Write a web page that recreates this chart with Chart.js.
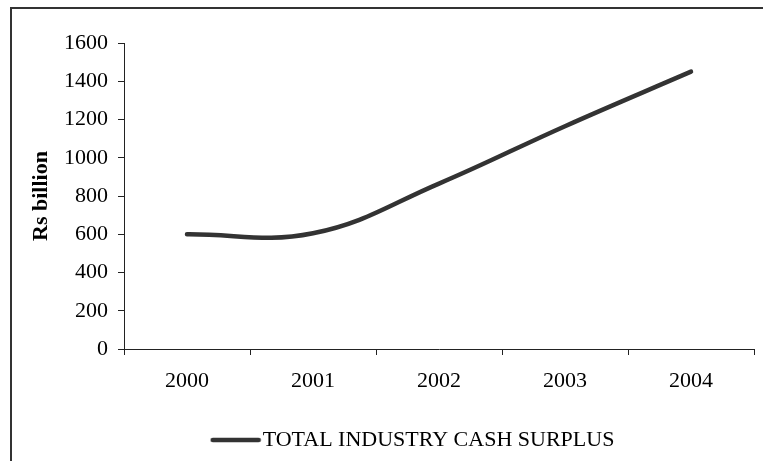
<!DOCTYPE html>
<html>
<head>
<meta charset="utf-8">
<script src="https://cdn.jsdelivr.net/npm/chart.js@4/dist/chart.umd.min.js"></script>
<style>
  body { margin: 0; background: #fff; }
  #wrap { position: relative; width: 763px; height: 461px; }
  /* outer frame: only top and left edges are visible */
  #frame {
    position: absolute; left: 10px; top: 7px; right: -4px; bottom: -4px;
    border-top: 2px solid #333; border-left: 2px solid #333;
    pointer-events: none;
  }
</style>
</head>
<body>
<div id="wrap">
  <canvas id="cashChart" width="763" height="461"></canvas>
  <div id="frame"></div>
</div>
<script>
const years = ["2000", "2001", "2002", "2003", "2004"];
const cashSurplus = [600, 605, 865, 1165, 1450]; // Rs billion
const seriesLabel = "TOTAL INDUSTRY CASH SURPLUS";
const yAxisTitle = "Rs billion";
const yMin = 0;
const yMax = 1600;
const yStep = 200;

const serif = "'Liberation Serif', 'Times New Roman', serif";
const textFont = { family: serif, size: 22 };
const lineColor = "#333";
const axisColor = "#222";

// Legend swatch: a thick rounded line sample
const legendLine = document.createElement("canvas");
legendLine.width = 52;
legendLine.height = 8;
const lctx = legendLine.getContext("2d");
lctx.strokeStyle = lineColor;
lctx.lineWidth = 4.5;
lctx.lineCap = "round";
lctx.beginPath();
lctx.moveTo(3, 4);
lctx.lineTo(49, 4);
lctx.stroke();

// Push the legend a bit to the right of the canvas centre
const legendShift = {
  id: "legendShift",
  afterLayout(chart) {
    chart.legend.left += 40;
    chart.legend.right += 40;
  },
};

const ctx = document.getElementById("cashChart").getContext("2d");

new Chart(ctx, {
  type: "line",
  data: {
    labels: years,
    datasets: [
      {
        label: seriesLabel,
        data: cashSurplus,
        borderColor: lineColor,
        backgroundColor: lineColor,
        borderWidth: 4.5,
        borderCapStyle: "round",
        tension: 0.4,
        pointRadius: 0,
        fill: false,
      },
    ],
  },
  options: {
    responsive: false,
    animation: false,
    layout: { padding: { left: 0, right: 9, top: 43, bottom: 0 } },
    plugins: {
      tooltip: { enabled: false },
      legend: {
        position: "bottom",
        labels: {
          usePointStyle: true,
          pointStyle: legendLine,
          pointStyleWidth: 32,
          color: "#000",
          font: textFont,
          padding: 10,
        },
      },
    },
    scales: {
      x: {
        offset: true,
        grid: { offset: true, drawOnChartArea: false, tickLength: 6, color: axisColor },
        border: { color: axisColor, width: 1 },
        ticks: { color: "#000", font: textFont, padding: 13, maxRotation: 0 },
        afterFit: (scale) => {
          scale.height = 70;
        },
      },
      y: {
        min: yMin,
        max: yMax,
        ticks: {
          stepSize: yStep,
          color: "#000",
          font: textFont,
          padding: 10,
          callback: (value) => String(value), // no thousands separator
        },
        grid: { drawOnChartArea: false, tickLength: 6, color: axisColor },
        border: { color: axisColor, width: 1 },
        title: {
          display: true,
          text: yAxisTitle,
          color: "#000",
          font: { family: serif, size: 22, weight: "bold" },
          padding: { top: 28, bottom: 0 },
        },
        afterFit: (scale) => {
          scale.width = 124;
        },
      },
    },
  },
  plugins: [legendShift],
});
</script>
</body>
</html>
